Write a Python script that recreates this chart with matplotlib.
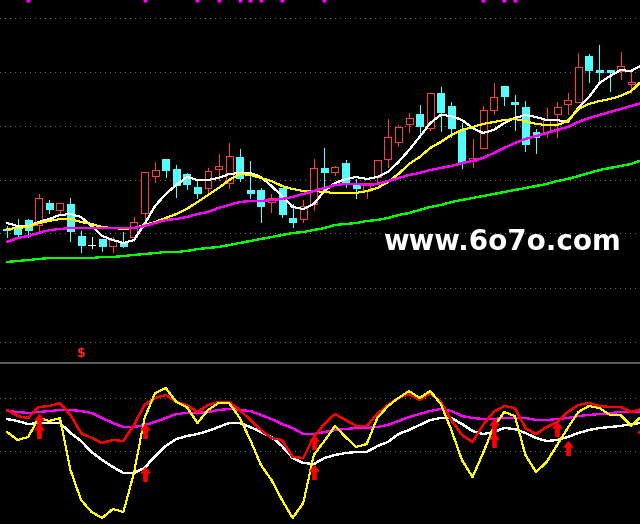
import matplotlib as mpl
import matplotlib.pyplot as plt
import numpy as np
from matplotlib.path import Path

# -------------------------------------
# Data
# -------------------------------------

opens = [7.71, 7.72, 7.80, 7.75, 7.97, 7.90, 7.96, 7.64, 7.55, 7.61,
         7.54, 7.57, 7.63, 7.87, 8.24, 8.41, 8.31, 8.26, 8.13, 8.12,
         8.31, 8.17, 8.43, 8.10, 8.10, 7.98, 8.12, 7.82, 7.81, 7.96,
         8.32, 8.28, 8.37, 8.16, 8.09, 8.23, 8.41, 8.58, 8.76, 8.86,
         8.72, 9.07, 8.94, 8.70, 8.39, 8.52, 8.90, 9.14, 8.98, 8.93,
         8.68, 8.68, 8.86, 8.96, 8.98, 9.44, 9.30, 9.30, 9.29, 9.16]
closes = [7.70, 7.66, 7.70, 8.02, 7.91, 7.97, 7.69, 7.55, 7.55, 7.54,
          7.60, 7.54, 7.78, 8.28, 8.30, 8.30, 8.15, 8.16, 8.07, 8.29,
          8.34, 8.44, 8.22, 8.07, 7.94, 8.02, 7.86, 7.78, 7.94, 8.32,
          8.28, 8.33, 8.17, 8.12, 8.17, 8.40, 8.63, 8.73, 8.82, 8.74,
          9.07, 8.88, 8.72, 8.38, 8.42, 8.90, 9.03, 9.04, 8.96, 8.56,
          8.63, 8.80, 8.93, 9.00, 9.33, 9.30, 9.28, 9.28, 9.34, 9.18]
highs = [7.74, 7.81, 7.81, 8.06, 8.00, 7.97, 8.02, 7.69, 7.63, 7.61,
         7.63, 7.68, 7.83, 8.28, 8.38, 8.41, 8.35, 8.27, 8.19, 8.32,
         8.46, 8.57, 8.51, 8.39, 8.12, 8.06, 8.12, 7.96, 8.00, 8.41,
         8.52, 8.34, 8.40, 8.21, 8.17, 8.40, 8.81, 8.75, 8.87, 8.95,
         9.07, 9.13, 8.98, 8.77, 8.61, 8.94, 9.17, 9.14, 9.05, 8.99,
         8.71, 8.92, 8.98, 9.07, 9.47, 9.46, 9.55, 9.30, 9.48, 9.29]
lows = [7.63, 7.62, 7.63, 7.69, 7.87, 7.85, 7.59, 7.48, 7.52, 7.49,
        7.48, 7.53, 7.59, 7.75, 8.18, 8.23, 8.03, 8.11, 8.02, 8.07,
        8.20, 8.12, 8.19, 8.02, 7.78, 7.88, 7.83, 7.73, 7.78, 7.90,
        8.14, 8.25, 8.13, 8.02, 8.02, 8.18, 8.33, 8.54, 8.68, 8.67,
        8.70, 8.69, 8.63, 8.32, 8.33, 8.52, 8.86, 8.95, 8.70, 8.49,
        8.47, 8.63, 8.63, 8.86, 8.98, 9.18, 9.17, 9.09, 9.21, 9.07]

# moving averages (one more point than candles, the last bar is off screen)
ma5 = [7.77, 7.74, 7.74, 7.78, 7.81, 7.85, 7.86, 7.83, 7.74, 7.64,
       7.60, 7.57, 7.60, 7.76, 7.94, 8.06, 8.15, 8.23, 8.20, 8.20,
       8.22, 8.26, 8.27, 8.27, 8.23, 8.14, 8.04, 7.93, 7.91, 7.96,
       8.09, 8.17, 8.21, 8.23, 8.21, 8.23, 8.28, 8.38, 8.50, 8.63,
       8.77, 8.85, 8.84, 8.80, 8.72, 8.67, 8.70, 8.77, 8.82, 8.85,
       8.83, 8.80, 8.80, 8.78, 8.92, 9.03, 9.17, 9.24, 9.30, 9.29, 9.35]
ma10 = [7.71, 7.72, 7.73, 7.77, 7.79, 7.81, 7.81, 7.78, 7.76, 7.73,
        7.72, 7.71, 7.72, 7.75, 7.78, 7.82, 7.86, 7.91, 7.98, 8.05,
        8.12, 8.20, 8.26, 8.25, 8.22, 8.19, 8.14, 8.11, 8.09, 8.09,
        8.08, 8.07, 8.07, 8.07, 8.09, 8.12, 8.18, 8.26, 8.36, 8.43,
        8.52, 8.58, 8.65, 8.70, 8.73, 8.76, 8.78, 8.80, 8.81, 8.79,
        8.76, 8.75, 8.75, 8.79, 8.91, 8.96, 8.99, 9.01, 9.04, 9.09, 9.19]
ma20 = [7.58, 7.62, 7.64, 7.67, 7.70, 7.71, 7.72, 7.72, 7.72, 7.72,
        7.72, 7.72, 7.72, 7.74, 7.77, 7.80, 7.81, 7.83, 7.86, 7.88,
        7.92, 7.95, 7.98, 7.99, 7.99, 8.00, 8.01, 8.03, 8.06, 8.09,
        8.12, 8.15, 8.16, 8.16, 8.15, 8.16, 8.19, 8.22, 8.25, 8.27,
        8.30, 8.32, 8.34, 8.37, 8.39, 8.42, 8.47, 8.52, 8.57, 8.61,
        8.64, 8.67, 8.70, 8.73, 8.78, 8.82, 8.85, 8.88, 8.91, 8.94, 8.97]
ma60 = [7.38, 7.39, 7.40, 7.41, 7.42, 7.42, 7.42, 7.42, 7.42, 7.43,
        7.43, 7.44, 7.45, 7.46, 7.47, 7.48, 7.48, 7.49, 7.51, 7.52,
        7.53, 7.55, 7.57, 7.59, 7.61, 7.63, 7.65, 7.67, 7.68, 7.70,
        7.72, 7.75, 7.76, 7.77, 7.79, 7.80, 7.82, 7.85, 7.87, 7.90,
        7.93, 7.95, 7.98, 8.00, 8.02, 8.04, 8.06, 8.08, 8.10, 8.12,
        8.14, 8.16, 8.19, 8.21, 8.24, 8.27, 8.30, 8.32, 8.34, 8.36, 8.40]

# oscillator panel
osc_yellow = [68, 60, 63, 82, 79, 82, 30, 0, -12, -18,
              -9, -12, 27, 82, 107, 112, 98, 93, 77, 90,
              97, 97, 82, 60, 35, 20, 0, -18, -3, 45,
              59, 74, 63, 53, 56, 82, 94, 102, 109, 102,
              109, 96, 70, 40, 23, 47, 73, 88, 84, 45,
              28, 38, 55, 72, 88, 94, 92, 85, 85, 74, 84]
osc_red = [90, 84, 82, 93, 94, 97, 85, 67, 62, 57,
           60, 59, 75, 95, 102, 105, 98, 95, 88, 95,
           98, 98, 90, 80, 70, 62, 60, 43, 42, 63,
           76, 86, 80, 74, 74, 86, 95, 102, 106, 100,
           107, 98, 80, 65, 58, 75, 88, 94, 92, 72,
           66, 73, 78, 88, 95, 97, 94, 93, 93, 88, 91]
osc_white = [81, 79, 76, 77, 77, 77, 67, 59, 48, 40,
             33, 27, 27, 32, 44, 54, 61, 64, 66, 69,
             73, 77, 77, 73, 68, 63, 54, 42, 37, 36,
             42, 45, 47, 48, 48, 54, 58, 66, 70, 75,
             80, 82, 82, 76, 69, 66, 68, 72, 71, 67,
             62, 59, 60, 63, 67, 70, 72, 73, 74, 76, 77]
osc_magenta = [89, 88, 87, 88, 89, 90, 90, 89, 87, 82,
               77, 73, 73, 75, 78, 82, 86, 87, 87, 88,
               90, 91, 90, 89, 85, 81, 76, 72, 66, 66,
               68, 70, 71, 72, 72, 73, 75, 79, 83, 86,
               89, 91, 89, 84, 82, 81, 81, 82, 82, 82,
               80, 80, 81, 82, 84, 85, 86, 87, 88, 88, 88]

# buy arrows: bar index and arrow tip value
arrow_idx = [3, 3, 13, 13, 29, 29, 46, 46, 52, 53, 60]
arrow_tip = [86, 76, 76, 33, 65, 35, 81, 67, 78, 59, 73]

# small magenta marks along the top edge
top_mark_idx = [2, 13, 18, 20, 22, 23, 24, 26, 30, 45, 47, 48]

upper_grid = [9.82, 9.28, 8.74, 8.20, 7.67, 7.12, 6.58]
lower_grid = [102, 49]

# -------------------------------------
# Plotting
# -------------------------------------

mpl.rcParams["lines.antialiased"] = False
mpl.rcParams["patch.antialiased"] = False

RED = "#ff3c3c"
CYAN = "#54fcfc"
GRID = "#6e6e6e"

fig = plt.figure(figsize=(6.4, 5.24), dpi=100, facecolor="black")
split = 162 / 524
ax = fig.add_axes([0, split, 1, 1 - split], facecolor="black")
ax2 = fig.add_axes([0, 0, 1, split], facecolor="black")

for a in (ax, ax2):
    a.set_xlim(-0.66, 59.83)
    a.set_xticks([])
    a.set_yticks([])
    for s in a.spines.values():
        s.set_visible(False)

ax.set_ylim(6.38, 10.00)
ax2.set_ylim(-24, 138)

for g in upper_grid:
    ax.axhline(g, color=GRID, lw=0.72, ls=(0, (1, 5)), zorder=0)
for g in lower_grid:
    ax2.axhline(g, color=GRID, lw=0.72, ls=(0, (1, 5)), zorder=0)
ax2.axhline(138, color="#5a5a5a", lw=1.5, zorder=0)

# candles
o = np.array(opens)
c = np.array(closes)
h = np.array(highs)
l = np.array(lows)
x = np.arange(len(o))
w = 0.66

up = c > o
down = c < o
flat = c == o

top = np.maximum(o, c)
bot = np.minimum(o, c)

ax.vlines(x[up], top[up], h[up], color=RED, lw=0.72, zorder=3)
ax.vlines(x[up], l[up], bot[up], color=RED, lw=0.72, zorder=3)
ax.bar(x[up], (top - bot)[up], bottom=bot[up], width=w,
       facecolor="black", edgecolor=RED, lw=0.72, zorder=3)

ax.vlines(x[down], l[down], h[down], color=CYAN, lw=0.72, zorder=3)
ax.bar(x[down], (top - bot)[down], bottom=bot[down], width=w,
       facecolor=CYAN, edgecolor=CYAN, lw=0.72, zorder=3)

ax.vlines(x[flat], l[flat], h[flat], color="white", lw=0.72, zorder=3)
ax.hlines(c[flat], x[flat] - w / 2, x[flat] + w / 2, color="white", lw=0.72, zorder=3)

# moving averages
xm = np.arange(len(ma5))
ax.plot(xm, ma5, color="white", lw=0.72, zorder=4)
ax.plot(xm, ma10, color="#ffff00", lw=0.72, zorder=4)
ax.plot(xm, ma20, color="#ff00ff", lw=0.9, zorder=4)
ax.plot(xm, ma60, color="#00ff00", lw=0.9, zorder=4)

ax.plot(top_mark_idx, [10.0] * len(top_mark_idx), ls="none", marker="s",
        ms=3, color="#ff00ff", mec="none", zorder=5)

ax.text(7, 6.46, "$", color="#ff2020", fontsize=9, fontweight="bold",
        ha="center", va="center")

fig.text(0.784, 0.538, "www.6o7o.com", color="white", fontsize=20,
         fontweight="bold", ha="center", va="center")

# oscillator
xo = np.arange(len(osc_yellow))
ax2.plot(xo, osc_magenta, color="#ff00ff", lw=0.9, zorder=3)
ax2.plot(xo, osc_white, color="white", lw=0.9, zorder=3)
ax2.plot(xo, osc_red, color="#ff0000", lw=0.9, zorder=3)
ax2.plot(xo, osc_yellow, color="#ffff00", lw=0.72, zorder=3)

arrow = Path(
    [(0, 1), (0.65, 0.2), (0.25, 0.2), (0.25, -1), (-0.25, -1),
     (-0.25, 0.2), (-0.65, 0.2), (0, 1)],
    [Path.MOVETO] + [Path.LINETO] * 6 + [Path.CLOSEPOLY],
)
ax2.plot(arrow_idx, np.array(arrow_tip) - 6.5, ls="none", marker=arrow,
         ms=10, color="#ff0000", mec="#ff0000", mew=0.8, zorder=5)

fig.savefig("out.png", dpi=100, facecolor="black")
